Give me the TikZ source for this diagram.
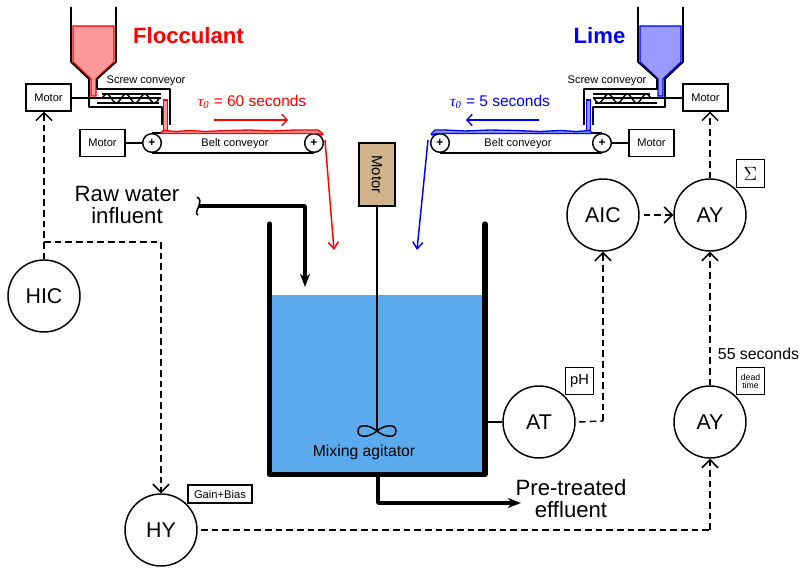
\documentclass[tikz,border=0pt]{standalone}
\usepackage{fontspec}
\setmainfont{Liberation Sans}
\newfontfamily\serifgreek{Liberation Serif}
\usetikzlibrary{arrows.meta}
\definecolor{waterc}{HTML}{5BAAEE}
\definecolor{pinkc}{HTML}{FF9999}
\definecolor{lilac}{HTML}{9999FF}
\definecolor{tanc}{HTML}{D2B48C}
\newcommand{\fs}[1]{\fontsize{#1}{#1}\selectfont}
\newcommand{\taulabel}[1]{{\serifgreek\itshape τ\raisebox{-0.35ex}{\fs{8}0}}\,\,= #1 seconds}
\tikzset{
  x=0.75pt,y=-0.75pt,
  thinl/.style={line width=1.1pt,black},
  barb/.style={-{Straight Barb[length=6pt,width=12pt,line width=1.1pt]}},
  sig/.style={thinl,dash pattern=on 5pt off 3pt},
  sigarrow/.style={sig,barb},
  motorbox/.style={draw,thinl,fill=white,text=black,minimum width=33.5pt,minimum height=20pt,inner sep=0pt,font=\fs{8.3}},
  inst/.style={circle,draw,thinl,fill=white,minimum size=54pt,inner sep=0pt,font=\fs{16}},
  tagbox/.style={draw,line width=0.9pt,fill=white,inner sep=0pt,minimum width=20.5pt,minimum height=20.5pt},
  pulley/.style={circle,draw,thinl,fill=white,minimum size=14pt,inner sep=0pt,font=\fs{9}\bfseries},
  small/.style={font=\fs{8.3},inner sep=0pt},
  hopper/.style={line width=1.2pt,black,line join=round},
  feed/.style={line width=1pt,#1},
  pipe/.style={line width=2.7pt,black,line join=round},
  pipetip/.style={-{Stealth[length=10pt,width=7.5pt]}},
  beltarrow/.style={line width=1pt,-{Straight Barb[length=4pt,width=8.5pt,line width=1pt]}},
  droparrow/.style={line width=1.1pt,-{Straight Barb[length=5pt,width=7.5pt,line width=1.1pt]}}
}
\begin{document}
\begin{tikzpicture}
\useasboundingbox (0,0) rectangle (804,574);
% water and tank
\fill[waterc] (268,295) rectangle (485,475);
\coordinate (tankTL) at (269.5,224);
\coordinate (tankBL) at (269.5,474.5);
\coordinate (tankBR) at (485,474.5);
\coordinate (tankTR) at (485,224);
\draw[line width=3.9pt,line join=round,line cap=round] (tankTL) -- (tankBL) -- (tankBR) -- (tankTR);
% left hopper
\draw[feed=red,fill=pinkc,line join=miter] (73,26) -- (114,26) -- (114,62) -- (96,79) -- (96,96) -- (91,96) -- (91,79) -- (73,62) -- cycle;
\draw[hopper] (71,7) -- (71,62) -- (89,79) -- (89,107) -- (162,107) -- (162,125);
\draw[hopper] (116,7) -- (116,62) -- (97,79) -- (97,89) -- (170,89) -- (170,125);
\draw[line width=0.9pt,red,fill=pinkc] (163.5,100) rectangle (167.5,131);
% right hopper
\draw[feed=blue,fill=lilac,line join=miter] (640,26) -- (681,26) -- (681,62) -- (663,79) -- (663,96) -- (658,96) -- (658,79) -- (640,62) -- cycle;
\draw[hopper] (638,7) -- (638,62) -- (657,79) -- (657,89) -- (584,89) -- (584,125);
\draw[hopper] (683,7) -- (683,62) -- (665,79) -- (665,107) -- (593,107) -- (593,125);
\draw[line width=0.9pt,blue,fill=lilac] (586.5,100) rectangle (590.5,131);
% motors
\node[motorbox] (motorA) at (48.5,97.5) {Motor};
\node[motorbox] (motorB) at (102.5,143) {Motor};
\node[motorbox] (motorC) at (705.5,97.5) {Motor};
\node[motorbox] (motorD) at (651.5,143) {Motor};
% augers
\coordinate (shaftA) at (161,98);
\coordinate (shaftC) at (593,98);
\draw[thinl] (motorA.east |- shaftA) -- (shaftA);
\draw[thinl] (motorC.west |- shaftC) -- (shaftC);
\draw[thinl] (102,94) -- (161,94);
\draw[thinl] (97,103) -- (159,103);
\draw[thinl,smooth] plot[domain=0:3,samples=37] ({102+\x*19},{98.5-4.5*sin(\x*360)});
\draw[thinl] (593,94) -- (650,94);
\draw[thinl] (595,103) -- (657,103);
\draw[thinl,smooth] plot[domain=0:3,samples=37] ({594+\x*19},{98.5+4.5*sin(\x*360)});
\node[small] at (146,81) {Screw conveyor};
\node[small] at (607,81) {Screw conveyor};
% belts
\node[pulley] (pA) at (152,143) {+};
\node[pulley] (pB) at (314,143) {+};
\node[pulley] (pC) at (440,143) {+};
\node[pulley] (pD) at (602,143) {+};
\draw[thinl] (pA.north) -- (pB.north);
\draw[thinl] (pA.south) -- (pB.south);
\draw[thinl] (pC.north) -- (pD.north);
\draw[thinl] (pC.south) -- (pD.south);
\draw[thinl] (motorB) -- (pA);
\draw[thinl] (pD) -- (motorD);
\node[small] at (235,144) {Belt conveyor};
\node[small] at (518,144) {Belt conveyor};
% material on belts
\draw[red,fill=pinkc,line width=1pt,line join=round] (161,133.5) -- (163,130.5) -- (176,131.5) -- (190,130.5) -- (205,131.5) -- (228,130.5) -- (250,130) -- (272,131) -- (296,130) -- (318,130) -- (323,134) -- (322,135) -- (318,133.5) -- cycle;
\draw[blue,fill=lilac,line width=1pt,line join=round] (592,133.5) -- (590,130.5) -- (576,131.5) -- (560,130.5) -- (540,131.5) -- (515,130.5) -- (490,130) -- (465,131) -- (445,130) -- (435,130) -- (431,134) -- (432,135) -- (436,133.5) -- cycle;
\coordinate (ra) at (214,120);
\coordinate (rb) at (288,120);
\coordinate (ba) at (539,120);
\coordinate (bb) at (466,120);
\draw[red,beltarrow] (ra) -- (rb);
\draw[blue,beltarrow] (ba) -- (bb);
\node[font=\fs{11.6},text=red,inner sep=0pt] at (252,102) {\taulabel{60}};
\node[font=\fs{11.6},text=blue,inner sep=0pt] at (500,102) {\taulabel{5}};
\coordinate (dropA) at (325,140);
\coordinate (dropAend) at (334,250);
\coordinate (dropB) at (428,140);
\coordinate (dropBend) at (417,250);
\draw[red,droparrow] (dropA) -- (dropAend);
\draw[blue,droparrow] (dropB) -- (dropBend);
\node[font=\fs{16.6}\bfseries,text=red,inner sep=0pt] at (188.5,36) {Flocculant};
\node[font=\fs{16.6}\bfseries,text=blue,inner sep=0pt] at (599.5,36) {Lime};
% agitator
\node[draw,thinl,fill=tanc,minimum width=27pt,minimum height=47pt,inner sep=0pt] (motorE) at (377,174.5) {\rotatebox{-90}{\fs{11.2}Motor}};
\coordinate (hub) at (377,431);
\draw[thinl] (motorE.south) -- (hub);
\draw[thinl] (hub) .. controls (370,425) and (358,423) .. (358,431) .. controls (358,439) and (370,437) .. (hub) .. controls (384,425) and (396,423) .. (396,431) .. controls (396,439) and (384,437) .. (hub);
\node[font=\fs{11.8},inner sep=0pt] at (364,452) {Mixing agitator};
% influent / effluent
\node[font=\fs{16.6},align=center,inner sep=0pt] (raw) at (127,205) {Raw water\\influent};
\coordinate (rawa) at (199,206);
\coordinate (rawb) at (305,206);
\coordinate (rawc) at (305,287);
\draw[pipe,pipetip] (rawa) -- (rawb) -- (rawc);
\draw[line width=1.2pt] (197,197) .. controls (201,199) and (200,203) .. (199,206) .. controls (197,210) and (195,214) .. (198,215);
\node[font=\fs{16.6},align=center,inner sep=0pt] (eff) at (571,499) {Pre-treated\\effluent};
\coordinate (outa) at (378,476);
\coordinate (outb) at (378,503);
\coordinate (outc) at (521,503);
\draw[pipe,pipetip] (outa) -- (outb) -- (outc);
% instruments
\node[inst] (HIC) at (44,296) {HIC};
\node[inst] (HY) at (161,530) {HY};
\node[inst] (AT) at (539,422) {AT};
\node[inst] (AIC) at (603,215) {AIC};
\node[inst] (AYa) at (710,215) {AY};
\node[inst] (AYb) at (710,422) {AY};
\node[tagbox,minimum width=48pt,minimum height=13.5pt,font=\fs{8.4}] (tagGB) at (220,494) {Gain+Bias};
\node[tagbox,font=\fs{11}] (tagpH) at (579.5,381) {pH};
\node[tagbox,font=\fs{6.5},align=center] (tagDT) at (750.5,381) {dead\\[-0.5pt]time};
\node[tagbox,font=\fs{14.5}] (tagS) at (750.5,173.5) {$\Sigma$};
\node[font=\fs{11.9},inner sep=0pt] at (758.5,354) {55 seconds};
% signals
\coordinate (brA) at (44,242);
\coordinate (brB) at (161,242);
\coordinate (atA) at (579,422);
\coordinate (atB) at (603,421);
\coordinate (hyA) at (201,530);
\coordinate (hyB) at (710,530);
\coordinate (tapAT) at (485,422);
\draw[sigarrow] (HIC.north) -- (HIC.north |- motorA.south);
\draw[sig] (brA) -- (brB);
\draw[sigarrow] (brB) -- (HY.north);
\draw[sig] (hyA) -- (hyB);
\draw[sigarrow] (hyB) -- (AYb.south);
\draw[sigarrow] (AYb.north) -- (AYa.south);
\draw[sig] (atA) -- (atB);
\draw[sigarrow] (atB) -- (AIC.south);
\draw[sigarrow,shorten <=3pt] (AIC.east) -- (AYa.west);
\draw[sigarrow] (AYa.north) -- (AYa.north |- motorC.south);
\draw[thinl] (tapAT) -- (AT.west);
\end{tikzpicture}
\end{document}
